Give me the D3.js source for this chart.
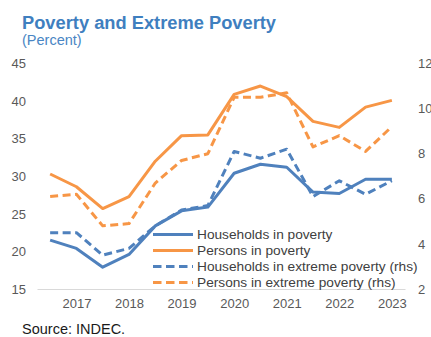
<!DOCTYPE html>
<html>
<head>
<meta charset="utf-8">
<script src="https://cdn.jsdelivr.net/npm/d3@7"></script>
<style>
  html, body { margin: 0; padding: 0; background: #fff; }
  svg { display: block; font-family: "Liberation Sans", Arial, sans-serif; }
</style>
</head>
<body>
<svg id="chart" width="431" height="337"></svg>
<script>
// Semesters, second half of 2016 through first half of 2023
const periods = ["2016 S2", "2017 S1", "2017 S2", "2018 S1", "2018 S2", "2019 S1", "2019 S2",
                 "2020 S1", "2020 S2", "2021 S1", "2021 S2", "2022 S1", "2022 S2", "2023 S1"];

// Left axis series (percent)
const householdsPoverty = [21.5, 20.4, 17.9, 19.6, 23.4, 25.4, 25.9, 30.4, 31.6, 31.2, 27.9, 27.7, 29.6, 29.6];
const personsPoverty    = [30.3, 28.6, 25.7, 27.3, 32.0, 35.4, 35.5, 40.9, 42.0, 40.6, 37.3, 36.5, 39.2, 40.1];

// Right axis series (percent)
const householdsExtreme = [4.5, 4.5, 3.5, 3.8, 4.8, 5.5, 5.7, 8.1, 7.8, 8.2, 6.1, 6.8, 6.2, 6.8];
const personsExtreme    = [6.1, 6.2, 4.8, 4.9, 6.7, 7.7, 8.0, 10.5, 10.5, 10.7, 8.3, 8.8, 8.1, 9.2];

// Axis ticks
const leftTicks  = [15, 20, 25, 30, 35, 40, 45];
const rightTicks = [2, 4, 6, 8, 10, 12];
const yearTicks  = ["2017 S1", "2018 S1", "2019 S1", "2020 S1", "2021 S1", "2022 S1", "2023 S1"];

const blue = "#4f81bd";
const orange = "#f79646";

const series = [
  { name: "Households in poverty", values: householdsPoverty, color: blue, dashed: false, axis: "left" },
  { name: "Persons in poverty", values: personsPoverty, color: orange, dashed: false, axis: "left" },
  { name: "Households in extreme poverty (rhs)", values: householdsExtreme, color: blue, dashed: true, axis: "right" },
  { name: "Persons in extreme poverty (rhs)", values: personsExtreme, color: orange, dashed: true, axis: "right" }
];

const svg = d3.select("#chart");

const x = d3.scalePoint().domain(periods).range([37, 405]).padding(0.5);
const yLeft = d3.scaleLinear().domain([15, 45]).range([289, 63.5]);
const yRight = d3.scaleLinear().domain([2, 12]).range([289, 63.5]);

// Title block
svg.append("text")
  .attr("x", 22).attr("y", 29)
  .attr("font-size", 18.3).attr("font-weight", "bold")
  .attr("fill", "#3f7fbf")
  .text("Poverty and Extreme Poverty");
svg.append("text")
  .attr("x", 22).attr("y", 45)
  .attr("font-size", 14.5)
  .attr("fill", "#4a86c4")
  .text("(Percent)");

// Left axis labels
const leftAxis = svg.append("g")
  .attr("transform", "translate(26,0)")
  .call(d3.axisLeft(yLeft).tickValues(leftTicks).tickSize(0).tickPadding(0));
leftAxis.select(".domain").remove();
leftAxis.selectAll("text")
  .attr("font-size", 13).attr("fill", "#595959")
  .attr("font-family", "Liberation Sans, Arial, sans-serif");

// Right axis labels
const rightAxis = svg.append("g")
  .attr("transform", "translate(418,0)")
  .call(d3.axisRight(yRight).tickValues(rightTicks).tickSize(0).tickPadding(0));
rightAxis.select(".domain").remove();
rightAxis.selectAll("text")
  .attr("font-size", 13).attr("fill", "#595959")
  .attr("font-family", "Liberation Sans, Arial, sans-serif");

// Bottom axis: baseline and yearly labels
const bottomAxis = svg.append("g")
  .attr("transform", "translate(0,289)")
  .call(d3.axisBottom(x).tickValues(yearTicks).tickSize(0).tickPadding(10)
    .tickFormat(d => d.slice(0, 4)));
bottomAxis.select(".domain")
  .attr("stroke", "#d9d9d9").attr("stroke-width", 1);
bottomAxis.selectAll("text")
  .attr("font-size", 13).attr("fill", "#595959")
  .attr("font-family", "Liberation Sans, Arial, sans-serif");

// Series lines
series.forEach(s => {
  const y = s.axis === "left" ? yLeft : yRight;
  const line = d3.line()
    .x((d, i) => x(periods[i]))
    .y(d => y(d));
  svg.append("path")
    .datum(s.values)
    .attr("fill", "none")
    .attr("stroke", s.color)
    .attr("stroke-width", 3)
    .attr("stroke-linejoin", "round")
    .attr("stroke-dasharray", s.dashed ? "8,4.5" : null)
    .attr("d", line);
});

// Legend
const legend = svg.append("g").attr("transform", "translate(153,234.5)");
series.forEach((s, i) => {
  const row = legend.append("g").attr("transform", `translate(0,${i * 16})`);
  row.append("line")
    .attr("x1", 0).attr("x2", 40).attr("y1", 0).attr("y2", 0)
    .attr("stroke", s.color).attr("stroke-width", 3)
    .attr("stroke-dasharray", s.dashed ? "8.5,4.5" : null);
  row.append("text")
    .attr("x", 44).attr("y", 0).attr("dy", "0.35em")
    .attr("font-size", 13.7).attr("fill", "#404040")
    .text(s.name);
});

// Source note
svg.append("text")
  .attr("x", 22).attr("y", 334)
  .attr("font-size", 14.5).attr("fill", "#1a1a1a")
  .text("Source: INDEC.");
</script>
</body>
</html>
